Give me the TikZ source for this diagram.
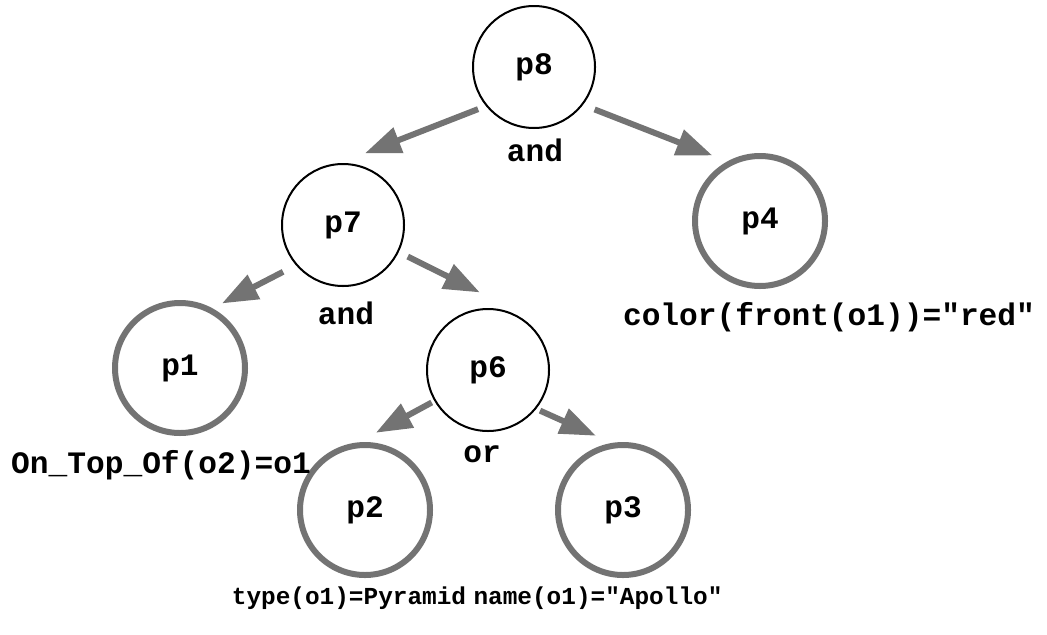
\documentclass[tikz,border=0pt]{standalone}
\usepackage{fontspec}
\setmonofont{Liberation Mono}
\usetikzlibrary{arrows.meta,calc}
\definecolor{dither}{gray}{0.45}
\tikzset{
  inner/.style      = {draw=black, line width=1pt, circle, minimum size=61pt, inner sep=0pt},
  leaf/.style       = {draw=dither, line width=3pt, circle, minimum size=65pt, inner sep=0pt},
  edge/.style       = {draw=dither, line width=3pt, -{Triangle[length=18pt, width=13pt]}},
  small/.style      = {font=\fontsize{12.2}{15}\selectfont\ttfamily\bfseries},
  every node/.style = {font=\fontsize{15.6}{18}\selectfont\ttfamily\bfseries},
}

\begin{document}
\begin{tikzpicture}[x=0.5pt,y=0.5pt]
  \useasboundingbox (0,0) rectangle (1047,634);
  % internal nodes
  \node[inner] (p8) at (534,567) {p8};
  \node[inner] (p7) at (343,409) {p7};
  \node[inner] (p6) at (488,264) {p6};
  % leaves
  \node[leaf] (p4) at (760,413) {p4};
  \node[leaf] (p1) at (180,266) {p1};
  \node[leaf] (p2) at (365,124) {p2};
  \node[leaf] (p3) at (623,124) {p3};
  % operators
  \node (and8) at (535,484) {and};
  \node (and7) at (346,321) {and};
  \node (or6)  at (482,180) {or};
  % conditions
  \node (c4) at (829,317) {color(front(o1))="red"};
  \node (c1) at (161,169) {On\_Top\_Of(o2)=o1};
  \node[small] (c2) at (349,36) {type(o1)=Pyramid};
  \node[small] (c3) at (598,36) {name(o1)="Apollo"};
  % edges
  \draw[edge] ($(p8)+(217:70)$) -- ($(p7)+(73:75)$);
  \draw[edge] ($(p8)+(-35:74)$) -- ($(p4)+(126:81)$);
  \draw[edge] ($(p7)+(218:76)$) -- ($(p1)+(57:77)$);
  \draw[edge] ($(p7)+(-26:72)$) -- ($(p6)+(96:78)$);
  \draw[edge] ($(p6)+(210:65)$) -- ($(p2)+(82:78)$);
  \draw[edge] ($(p6)+(-38:66)$) -- ($(p3)+(110:79)$);
\end{tikzpicture}
\end{document}
